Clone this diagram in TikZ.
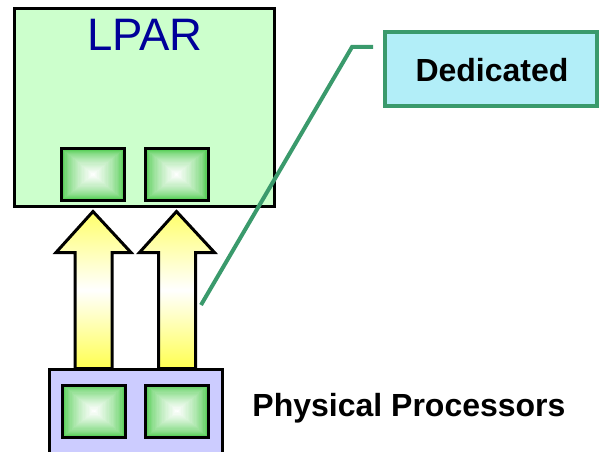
\documentclass[tikz,border=0pt]{standalone}
\usepackage{fontspec}
\setmainfont{Liberation Sans}
\usetikzlibrary{calc}

\definecolor{lparfill}{HTML}{CCFFCC}
\definecolor{physfill}{HTML}{CCCCFF}
\definecolor{dedfill}{HTML}{B2EEF8}
\definecolor{calloutgreen}{HTML}{3A9A6C}
\definecolor{chipgreen}{HTML}{40C840}
\definecolor{arrowyellow}{HTML}{FFFF50}
\definecolor{lparblue}{HTML}{000099}

\tikzset{
  partition/.style={draw=black, line width=3pt, fill=lparfill, inner sep=0pt,
    minimum width=260pt, minimum height=198pt},
  hostbox/.style={draw=black, line width=3pt, fill=physfill, inner sep=0pt,
    minimum width=173pt, minimum height=100pt},
  chipframe/.style={draw=black, line width=3pt, inner sep=0pt,
    minimum width=63pt, minimum height=52pt},
  flowarrow/.style={draw=black, line width=3pt, line join=miter,
    top color=arrowyellow!85!white, bottom color=arrowyellow, middle color=white},
  tagbox/.style={draw=calloutgreen, line width=4pt, fill=dedfill, inner sep=0pt,
    minimum width=212pt, minimum height=74pt},
  calloutline/.style={draw=calloutgreen, line width=4pt},
  boldlabel/.style={font=\fontsize{32}{37}\selectfont\bfseries, text=black},
}

% processor chip: nested squares fading from green at the rim to white in the middle
\newcommand\chipat[2]{%
  \foreach \k in {0,...,24}{
    \pgfmathtruncatemacro\mixv{100-100*(\k/24)^0.6}
    \fill[chipgreen!\mixv!white]
      ($(#2)+(-31.5+1.3*\k,-26+1.07*\k)$) rectangle ($(#2)+(31.5-1.3*\k,26-1.07*\k)$);
  }
  \node[chipframe] (#1) at (#2) {};
}

\begin{document}
\begin{tikzpicture}[x=1pt, y=-1pt]
  \clip (0,0) rectangle (606,452);

  % logical partition
  \node[partition] (lpar) at (144.5,107.5) {};
  \node[font=\fontsize{45.5}{52}\selectfont, text=lparblue] (lparname) at (145,34.5) {LPAR};
  \coordinate (ua0) at (93,174.5);
  \coordinate (ub0) at (176.5,174.5);
  \chipat{ua}{ua0}
  \chipat{ub}{ub0}

  % physical processor pool
  \node[hostbox] (phys) at (136,419.5) {};
  \coordinate (la0) at (94,411);
  \coordinate (lb0) at (177,411);
  \chipat{la}{la0}
  \chipat{lb}{lb0}

  % dedicated assignment arrows
  \foreach \up/\down in {ua/la, ub/lb}{
    \draw[flowarrow] ($(\up |- lpar.south)+(0,3.5)$)
      -- ++(38,41) -- ++(-19,0) -- ++(0,116) -- ++(-37,0) -- ++(0,-116) -- ++(-19,0) -- cycle;
  }

  % callout
  \node[tagbox] (ded) at (491,69) {};
  \node[boldlabel] (dedtext) at (492,70) {Dedicated};
  \coordinate (tail) at (201,305);
  \coordinate (knee) at (352,47);
  \draw[calloutline] (tail) -- (knee) -- ([shift={(-10,17)}]ded.north west);

  \node[boldlabel] (physname) at (409,408) {Physical Processors};
\end{tikzpicture}
\end{document}
